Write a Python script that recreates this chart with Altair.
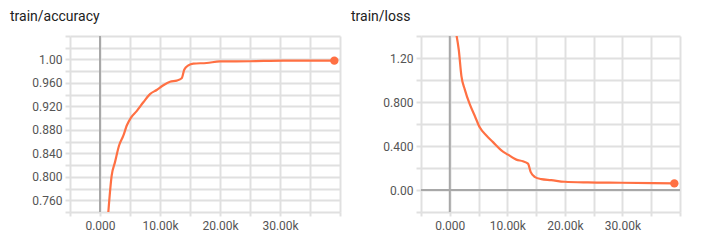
import altair as alt
import pandas as pd

# training curves (step, value)
acc_steps = [1389, 1944, 2500, 3167, 3889, 4444, 5167, 6111, 7222, 8333, 9444,
             10556, 11667, 12778, 13611, 14056, 14722, 15556, 17778, 20000,
             25000, 30556, 39056]
acc_values = [0.740, 0.802, 0.825, 0.853, 0.870, 0.887, 0.901, 0.912, 0.927,
              0.941, 0.948, 0.956, 0.962, 0.964, 0.968, 0.983, 0.990, 0.993,
              0.994, 0.9966, 0.997, 0.998, 0.998]

loss_steps = [1156, 1561, 2023, 2601, 3468, 4335, 5202, 6358, 7514, 8960, 10116,
              11561, 12717, 13584, 14046, 14740, 15896, 17630, 19942, 23988,
              29769, 39017]
loss_values = [1.41, 1.275, 1.035, 0.915, 0.78, 0.675, 0.57, 0.495, 0.435, 0.36,
               0.321, 0.276, 0.261, 0.24, 0.165, 0.12, 0.099, 0.09, 0.075, 0.069,
               0.066, 0.06]

x_ticks = [-5000, 0, 5000, 10000, 15000, 20000, 25000, 30000, 35000, 40000]
acc_ticks = [0.74, 0.76, 0.78, 0.80, 0.82, 0.84, 0.86, 0.88, 0.90, 0.92, 0.94,
             0.96, 0.98, 1.00, 1.02, 1.04]
loss_ticks = [-0.2, 0.0, 0.2, 0.4, 0.6, 0.8, 1.0, 1.2, 1.4]

LINE = "#ff7043"
GRID = "#e0e0e0"
ZERO = "#a8a8a8"
FONT = "Roboto"

acc_df = pd.DataFrame({"step": acc_steps, "value": acc_values})
loss_df = pd.DataFrame({"step": loss_steps, "value": loss_values})

x_label_expr = ("datum.value == 0 ? '0.000' : "
                "(datum.value > 0 && datum.value < 35000 && datum.value % 10000 == 0 ? "
                "format(datum.value, '.4s') : '')")


def x_axis():
    return alt.Axis(values=x_ticks, labelExpr=x_label_expr, title=None,
                    grid=True, gridColor=GRID, gridWidth=2,
                    domain=False, ticks=True, tickColor=GRID, tickWidth=2,
                    tickSize=4, labelPadding=4, labelFont=FONT, labelFontSize=12,
                    labelColor="#555555", labelFlush=False)


def y_axis(ticks, expr):
    return alt.Axis(values=ticks, labelExpr=expr, title=None,
                    grid=True, gridColor=GRID, gridWidth=2,
                    domain=False, ticks=True, tickColor=GRID, tickWidth=2,
                    tickSize=5, labelPadding=3, labelFont=FONT, labelFontSize=12,
                    labelColor="#555555", minExtent=65, maxExtent=65,
                    labelFlush=False)


def panel(df, title, ticks, domain, expr, zero_y, w, title_dx):
    x = alt.X("step:Q", scale=alt.Scale(domain=[-5000, 40000], nice=False),
              axis=x_axis())
    y = alt.Y("value:Q", scale=alt.Scale(domain=domain, nice=False, zero=False),
              axis=y_axis(ticks, expr))
    # zero reference lines share the panel's own scales and axes
    vline = alt.Chart(pd.DataFrame({"step": [0]})).mark_rule(
        color=ZERO, strokeWidth=2).encode(x=x)
    layers = [vline]
    if zero_y:
        hline = alt.Chart(pd.DataFrame({"value": [0.0]})).mark_rule(
            color=ZERO, strokeWidth=2).encode(y=y)
        layers.append(hline)
    line = alt.Chart(df).mark_line(color=LINE, strokeWidth=2.2, clip=True,
                                   interpolate="monotone").encode(x=x, y=y)
    dot = alt.Chart(df.tail(1)).mark_point(filled=True, color=LINE, size=70,
                                            opacity=1).encode(x=x, y=y)
    layers += [line, dot]
    return alt.layer(*layers).properties(
        width=w, height=176,
        title=alt.TitleParams(title, anchor="start", frame="bounds",
                              font=FONT, fontSize=14, fontWeight="normal",
                              color="#212121", offset=11, dx=title_dx))


acc_expr = ("(round(datum.value * 100) % 4 == 0 && datum.value < 1.01) ? "
            "format(datum.value, '.3r') : ''")
loss_expr = ("abs(datum.value) < 1e-9 ? '0.00' : "
             "((round(datum.value * 10) % 4 == 0 && datum.value > -0.1 && datum.value < 1.3) ? "
             "format(datum.value, '.3r') : '')")

left = panel(acc_df, "train/accuracy", acc_ticks, [0.74, 1.04], acc_expr, False, 270, 5)
right = panel(loss_df, "train/loss", loss_ticks, [-0.2, 1.4], loss_expr, True, 259, -5)

chart = alt.hconcat(left, right, spacing=10).properties(
    padding={"left": 5, "top": 10, "right": 5, "bottom": 5},
    background="white",
).configure_view(stroke=None)

chart.save("out.html", embed_options={"renderer": "svg", "actions": False})
